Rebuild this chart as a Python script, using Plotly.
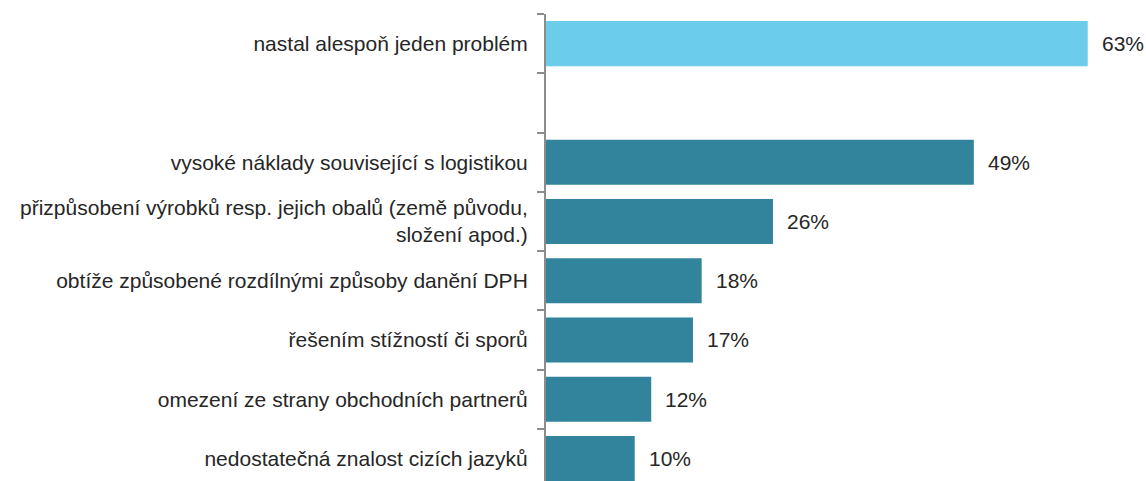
import plotly.graph_objects as go

categories = [
    "nastal alespoň jeden problém",
    " ",
    "vysoké náklady související s logistikou",
    "přizpůsobení výrobků resp. jejich obalů (země původu,<br>složení apod.)",
    "obtíže způsobené rozdílnými způsoby danění DPH",
    "řešením stížností či sporů",
    "omezení ze strany obchodních partnerů",
    "nedostatečná znalost cizích jazyků",
]
values = [62.3, None, 49.2, 26.1, 17.9, 16.9, 12.1, 10.2]
labels = ["63%", "", "49%", "26%", "18%", "17%", "12%", "10%"]
colors = ["#6CCDEA", "#FFFFFF", "#31849B", "#31849B", "#31849B", "#31849B", "#31849B", "#31849B"]

FONT = "Liberation Sans, Arial, sans-serif"

fig = go.Figure(
    go.Bar(
        x=values,
        y=categories,
        orientation="h",
        marker=dict(color=colors, line=dict(width=0)),
        hoverinfo="skip",
        cliponaxis=False,
    )
)

for c, v, t in zip(categories, values, labels):
    if v is None:
        continue
    fig.add_annotation(
        x=v, y=c, text=t, showarrow=False, xanchor="left", yanchor="middle",
        xshift=12, font=dict(family=FONT, size=21, color="#262626"),
    )

fig.update_layout(
    width=1146,
    height=481,
    margin=dict(l=546, r=0, t=14, b=0, autoexpand=False),
    paper_bgcolor="white",
    plot_bgcolor="white",
    bargap=0.24,
    showlegend=False,
    font=dict(family=FONT, size=21, color="#262626"),
)
fig.update_xaxes(
    range=[0, 69], visible=False, showgrid=False, zeroline=False, automargin=False,
)
fig.update_yaxes(
    type="category",
    categoryorder="array",
    categoryarray=categories,
    range=[7.38, -0.5],
    automargin=False,
    showline=True,
    linecolor="#8C8C8C",
    linewidth=2,
    ticks="outside",
    tickson="boundaries",
    ticklen=7,
    tickwidth=2,
    tickcolor="#8C8C8C",
    ticklabelstandoff=12,
    showgrid=False,
    zeroline=False,
    tickfont=dict(family=FONT, size=21, color="#262626"),
)

fig.write_html(
    "out.html",
    config={"displayModeBar": False, "staticPlot": True},
    post_script="document.body.style.margin='0';document.body.style.overflow='hidden';",
)
